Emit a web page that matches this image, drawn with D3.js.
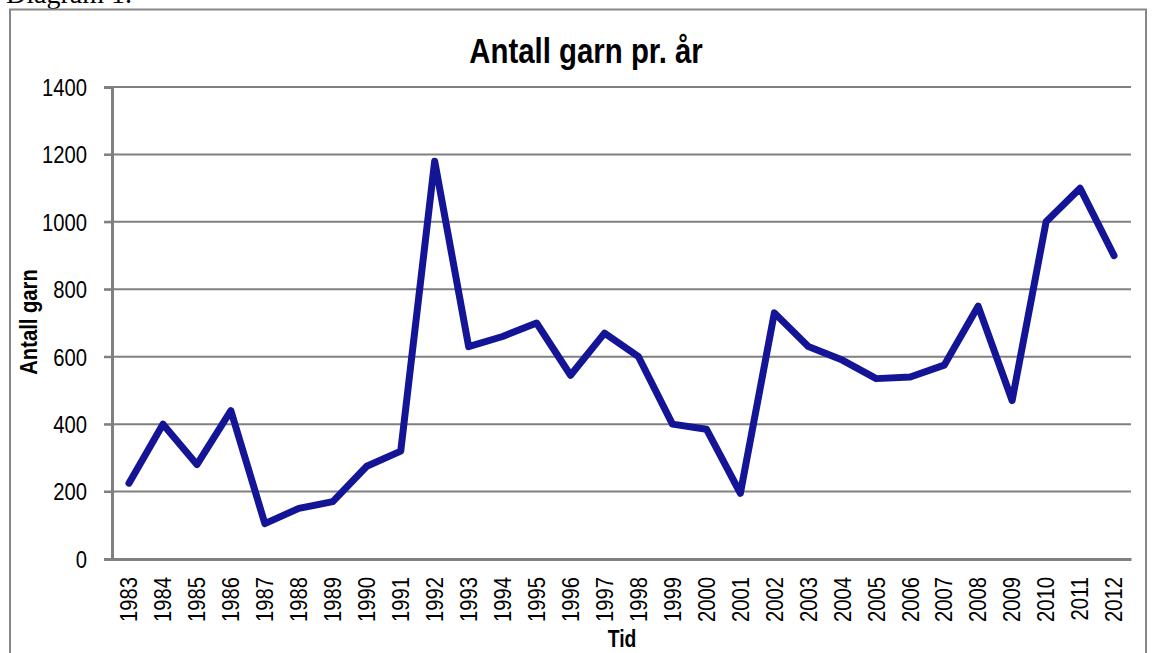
<!DOCTYPE html>
<html>
<head>
<meta charset="utf-8">
<script src="https://cdn.jsdelivr.net/npm/d3@7"></script>
<style>
  body { margin: 0; background: #fff; }
  svg { display: block; }
  .narrow { font-family: "Liberation Sans", Arial, sans-serif; }
</style>
</head>
<body>
<div class="canvas"></div>
<script>
// data
const years = ['1983','1984','1985','1986','1987','1988','1989','1990','1991','1992',
  '1993','1994','1995','1996','1997','1998','1999','2000','2001','2002',
  '2003','2004','2005','2006','2007','2008','2009','2010','2011','2012'];
const garn = [225, 400, 280, 440, 105, 150, 170, 275, 320, 1180,
  630, 660, 700, 545, 670, 600, 400, 385, 195, 730,
  630, 590, 535, 540, 575, 750, 470, 1000, 1100, 900];
const yTicks = [0, 200, 400, 600, 800, 1000, 1200, 1400];

const dims = {width: 1153, height: 653};
const plot = {left: 112, right: 1131, top: 87, bottom: 559};
// squeeze text horizontally to mimic a narrow face
const squeeze = 'scale(0.88,1)';

const svg = d3.select('.canvas')
  .append('svg')
  .attr('width', dims.width)
  .attr('height', dims.height);

// caption, cut off at the top of the page
svg.append('text')
  .attr('x', 6).attr('y', 3)
  .attr('font-family', '"Liberation Serif", "Times New Roman", serif')
  .attr('font-size', 28)
  .text('Diagram 1.');

// frame
svg.append('rect')
  .attr('x', 10).attr('y', 9.5)
  .attr('width', 1136).attr('height', 660)
  .attr('fill', 'none')
  .attr('stroke', '#888')
  .attr('stroke-width', 2);

const x = d3.scaleBand()
  .domain(years)
  .range([plot.left, plot.right]);

const y = d3.scaleLinear()
  .domain([0, 1400])
  .range([plot.bottom, plot.top]);

// gridlines
svg.append('g')
  .selectAll('line')
  .data(yTicks.filter(d => d > 0))
  .enter().append('line')
  .attr('x1', plot.left - 8).attr('x2', plot.right)
  .attr('y1', d => y(d)).attr('y2', d => y(d))
  .attr('stroke', '#808080')
  .attr('stroke-width', 2);

// y axis
const yAxis = d3.axisLeft(y).tickValues(yTicks).tickSize(8).tickFormat(d3.format('d'));
const yG = svg.append('g')
  .attr('transform', `translate(${plot.left},0)`)
  .call(yAxis);
yG.select('.domain').attr('stroke', '#808080').attr('stroke-width', 3);
yG.selectAll('.tick line').attr('stroke', '#808080').attr('stroke-width', 2);
yG.selectAll('text')
  .attr('class', 'narrow')
  .attr('font-size', 23)
  .attr('fill', '#000')
  .attr('x', 0)
  .attr('dy', '0.36em')
  .attr('transform', `translate(-25,0) ${squeeze}`);

// x axis
const xAxis = d3.axisBottom(x).tickSize(0);
const xG = svg.append('g')
  .attr('transform', `translate(0,${plot.bottom})`)
  .call(xAxis);
xG.select('.domain').attr('stroke', '#808080').attr('stroke-width', 3);
xG.selectAll('text')
  .attr('class', 'narrow')
  .attr('font-size', 23)
  .attr('fill', '#000')
  .attr('x', 0).attr('y', 0)
  .attr('dy', '0.36em')
  .attr('text-anchor', 'end')
  .attr('transform', `translate(0,18) rotate(-90) ${squeeze}`);

// line
const line = d3.line()
  .x((d, i) => x(years[i]) + x.bandwidth() / 2)
  .y(d => y(d));

svg.append('path')
  .datum(garn)
  .attr('d', line)
  .attr('fill', 'none')
  .attr('stroke', '#141496')
  .attr('stroke-width', 7)
  .attr('stroke-linejoin', 'round')
  .attr('stroke-linecap', 'round');

// title and axis labels
svg.append('text')
  .attr('class', 'narrow')
  .attr('transform', 'translate(586,63) scale(0.84,1)')
  .attr('text-anchor', 'middle')
  .attr('font-size', 35)
  .attr('font-weight', 'bold')
  .text('Antall garn pr. år');

svg.append('text')
  .attr('class', 'narrow')
  .attr('transform', 'translate(622,647) scale(0.84,1)')
  .attr('text-anchor', 'middle')
  .attr('font-size', 23)
  .attr('font-weight', 'bold')
  .text('Tid');

svg.append('text')
  .attr('class', 'narrow')
  .attr('transform', 'translate(37,322) rotate(-90) scale(0.88,1)')
  .attr('text-anchor', 'middle')
  .attr('font-size', 23)
  .attr('font-weight', 'bold')
  .text('Antall garn');
</script>
</body>
</html>
